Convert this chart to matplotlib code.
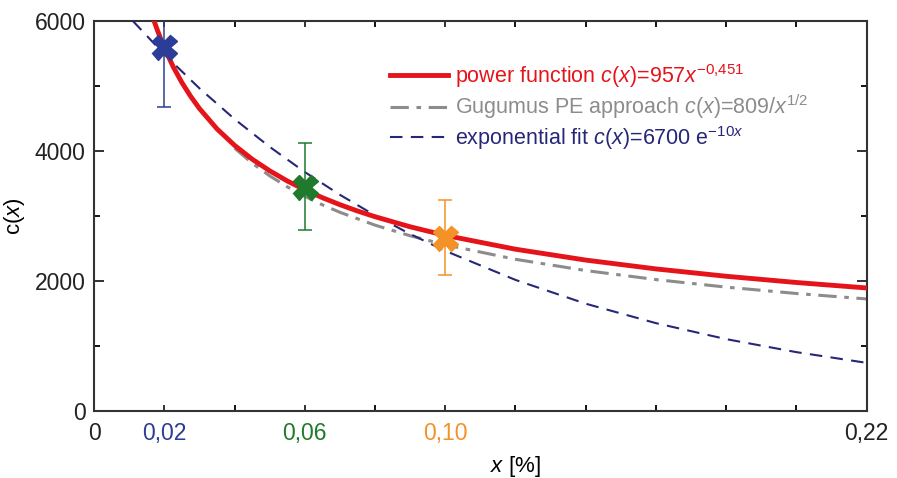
import matplotlib
matplotlib.use("Agg")
import matplotlib.pyplot as plt
from matplotlib.ticker import FixedLocator

plt.rcParams["font.family"] = ["Liberation Sans", "DejaVu Sans"]
plt.rcParams["mathtext.fontset"] = "custom"
plt.rcParams["mathtext.rm"] = "Liberation Sans"
plt.rcParams["mathtext.it"] = "Liberation Sans:italic"

# measured points (x in %, c(x), error half-width)
point_x = [0.02, 0.06, 0.10]
point_c = [5600, 3450, 2670]
point_err = [930, 670, 580]
point_colors = ["#2b3d96", "#1f7a2c", "#f39227"]

# curves
power_x = [0.017, 0.018, 0.019, 0.02, 0.0225, 0.025, 0.0275, 0.03, 0.035, 0.04,
           0.045, 0.05, 0.055, 0.06, 0.065, 0.07, 0.075, 0.08, 0.09, 0.10, 0.12,
           0.14, 0.16, 0.18, 0.20, 0.22]
power_c = [6011, 5859, 5718, 5587, 5297, 5052, 4840, 4653, 4340, 4087,
           3875, 3696, 3540, 3404, 3283, 3175, 3078, 2990, 2835, 2703, 2490,
           2323, 2187, 2074, 1978, 1894]

gug_x = [0.04, 0.045, 0.05, 0.055, 0.06, 0.065, 0.07, 0.08, 0.09, 0.10, 0.12,
         0.14, 0.16, 0.18, 0.20, 0.22]
gug_c = [4045, 3814, 3618, 3450, 3303, 3173, 3058, 2860, 2697, 2558, 2335,
         2162, 2023, 1907, 1809, 1725]

exp_x = [0.011, 0.02, 0.03, 0.04, 0.05, 0.06, 0.07, 0.08, 0.09, 0.10, 0.12, 0.14,
         0.16, 0.18, 0.20, 0.22]
exp_c = [6002, 5485, 4964, 4491, 4064, 3677, 3327, 3010, 2724, 2465, 2018, 1652,
         1353, 1107, 907, 742]

xtick_vals = [0, 0.02, 0.06, 0.10, 0.22]
xtick_labels = ["0", "0,02", "0,06", "0,10", "0,22"]
xtick_colors = ["#222222", "#2b3d96", "#1f7a2c", "#f39227", "#222222"]

fig = plt.figure(figsize=(8.97, 4.78), dpi=100)
ax = fig.add_axes([0.105, 0.140, 0.861, 0.816])

ax.plot(gug_x, gug_c, color="#8c8c8c", lw=2.2, dashes=(6, 2.5, 1.5, 2.5),
        label=r"Gugumus PE approach $c(x)$=809/$x^{1/2}$", zorder=2)
ax.plot(exp_x, exp_c, color="#27277a", lw=1.5, dashes=(6, 4),
        label=r"exponential fit $c(x)$=6700 e$^{-10x}$", zorder=3)
ax.plot(power_x, power_c, color="#e5141b", lw=3.5,
        label=r"power function $c(x)$=957$x^{-0{,}451}$", zorder=4)

for px, pc, pe, col in zip(point_x, point_c, point_err, point_colors):
    ax.errorbar(px, pc, yerr=pe, fmt="none", ecolor=col, elinewidth=1.1,
                capsize=5, capthick=1.1, zorder=5)
    ax.plot(px, pc, marker="X", ms=18, color=col, mec=col, zorder=6, clip_on=False)

ax.set_xlim(0, 0.22)
ax.set_ylim(0, 6000)

ax.set_xticks(xtick_vals)
ax.set_xticklabels(xtick_labels)
ax.xaxis.set_minor_locator(FixedLocator([0.02, 0.04, 0.08, 0.10, 0.12, 0.14,
                                          0.16, 0.18, 0.20]))
ax.set_yticks([0, 2000, 4000, 6000])
ax.yaxis.set_minor_locator(FixedLocator([1000, 3000, 5000]))

ax.tick_params(which="major", direction="in", length=7, width=1.3,
               top=True, right=True, labelsize=16.5, colors="#222222", pad=6)
ax.tick_params(which="minor", direction="in", length=4, width=1.3,
               top=True, right=True)
ax.tick_params(axis="x", which="major", length=4, pad=8)
for lab, col in zip(ax.get_xticklabels(), xtick_colors):
    lab.set_color(col)

for s in ax.spines.values():
    s.set_linewidth(1.5)
    s.set_color("#333333")

ax.set_xlabel(r"$x$ [%]", fontsize=16)
ax.xaxis.set_label_coords(0.545, -0.11)
ax.set_ylabel(r"c($x$)", fontsize=16, labelpad=6)

handles, labels = ax.get_legend_handles_labels()
order = [2, 0, 1]
ax.legend([handles[i] for i in order], [labels[i] for i in order],
          loc="upper left", bbox_to_anchor=(0.383, 0.895), frameon=False,
          fontsize=15.5, handlelength=2.7, handletextpad=0.3,
          labelspacing=0.12, borderpad=0, borderaxespad=0,
          labelcolor="linecolor")

fig.savefig("out.png", dpi=100)
